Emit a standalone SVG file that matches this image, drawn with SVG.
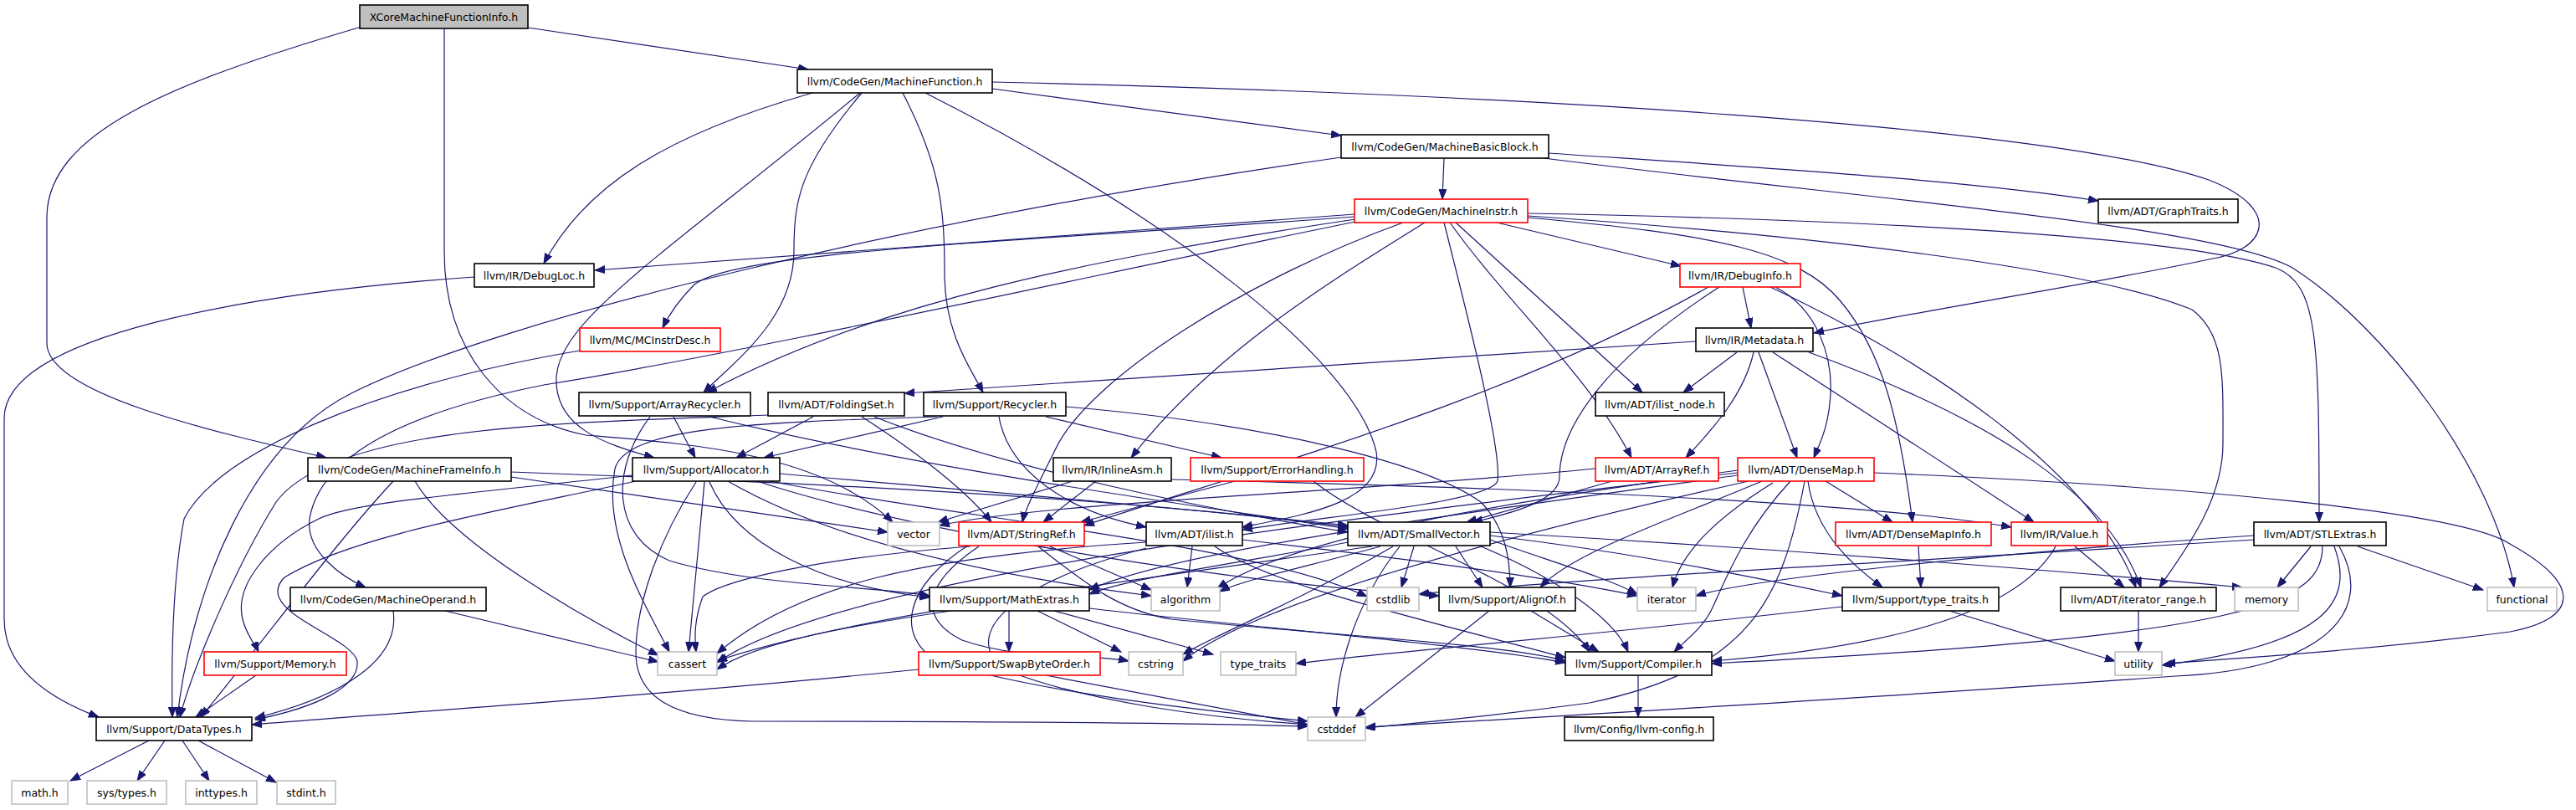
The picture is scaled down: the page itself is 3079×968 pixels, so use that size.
<svg xmlns="http://www.w3.org/2000/svg" width="3079" height="968" viewBox="0 0 3079 968">
<style>
.e path{fill:none;stroke:#191970;stroke-width:1.2;marker-end:url(#ah)}
.n rect{fill:#fff;stroke:#000;stroke-width:1.6}
.n.r rect{stroke:#ff0000}
.n.g rect{stroke:#bfbfbf}
.n.root rect{fill:#bfbfbf}
.n text{font-family:"DejaVu Sans","Liberation Sans",sans-serif;font-size:12.5px;text-anchor:middle;fill:#000}
</style>
<defs>
<marker id="ah" markerUnits="userSpaceOnUse" markerWidth="13" markerHeight="10" refX="12" refY="4.5" orient="auto"><path d="M0,0 L12,4.5 L0,9 z" fill="#191970" stroke="#191970" stroke-width="1"/></marker>
</defs>
<rect width="3079" height="968" fill="#fff"/>
<g id="edges" class="e">
<path d="M631,33 L966,83"/>
<path d="M432,32 C200,100 56,160 56,260 L56,410 C56,470 250,515 390,547"/>
<path d="M531,34 L531,300 C531,420 600,500 700,520 C820,530 980,540 1067,624"/>
<path d="M971,111 C800,160 700,220 650,315"/>
<path d="M1030,111 C955,200 949,240 949,300 C949,380 880,430 841,469"/>
<path d="M1028,111 C800,300 670,380 665,450 C662,510 720,530 782,547"/>
<path d="M1079,111 C1125,200 1129,250 1129,330 C1130,400 1160,440 1175,469"/>
<path d="M1106,111 C1400,260 1620,430 1645,540 C1655,600 1560,615 1485,630"/>
<path d="M1186,106 L1603,162"/>
<path d="M1186,98 C1800,112 2450,150 2640,215 C2730,250 2710,300 2640,310 C2500,340 2300,370 2168,398"/>
<path d="M1726,189 L1724,238"/>
<path d="M1851,183 C2100,200 2350,215 2508,240"/>
<path d="M1845,189 C2250,240 2650,270 2740,320 C2850,390 2980,560 3005,702"/>
<path d="M1603,188 C1100,260 600,380 420,470 C300,530 230,700 212,857"/>
<path d="M1619,256 L711,323"/>
<path d="M1619,259 C1200,290 880,300 830,340 C810,360 800,375 792,392"/>
<path d="M1620,262 C1300,310 1050,360 845,469"/>
<path d="M1620,265 C1300,330 900,420 650,460 C450,500 380,560 370,620 C365,660 410,690 437,702"/>
<path d="M1677,266 C1500,330 1300,450 1260,540 C1235,590 1225,610 1222,624"/>
<path d="M1703,266 C1600,330 1450,420 1352,547"/>
<path d="M1726,266 C1760,400 1795,540 1790,575 C1780,600 1600,615 1485,633"/>
<path d="M1733,266 C1800,360 1900,450 1950,547"/>
<path d="M1740,266 L1963,469"/>
<path d="M1789,266 L2009,318"/>
<path d="M1826,255 C2200,262 2600,280 2720,320 C2770,340 2772,400 2772,624"/>
<path d="M1826,258 C2150,280 2500,320 2620,370 C2660,400 2657,450 2657,530 C2657,600 2610,660 2581,702"/>
<path d="M1826,260 C2050,280 2150,300 2200,360 C2250,420 2270,500 2286,624"/>
<path d="M567,331 C300,350 5,400 5,500 L5,740 C5,800 60,835 118,857"/>
<path d="M2083,343 L2093,392"/>
<path d="M2122,343 C2175,370 2190,430 2188,470 C2186,510 2175,530 2168,547"/>
<path d="M2116,343 C2300,430 2500,560 2553,702"/>
<path d="M2042,343 C1800,480 1500,560 1296,628"/>
<path d="M2055,343 C1920,430 1864,510 1864,570 C1864,600 1800,615 1760,624"/>
<path d="M693,419 C450,460 260,540 220,620 C205,700 205,800 206,857"/>
<path d="M2027,408 L1081,470"/>
<path d="M2076,421 L2012,469"/>
<path d="M2096,421 C2085,470 2050,510 2015,547"/>
<path d="M2102,421 L2148,547"/>
<path d="M2119,421 L2431,624"/>
<path d="M2162,421 C2380,500 2520,590 2559,702"/>
<path d="M805,498 L831,547"/>
<path d="M777,498 C730,560 730,640 800,670 C900,700 1040,700 1111,712"/>
<path d="M848,498 C1100,560 1400,600 1611,632"/>
<path d="M972,498 L880,547"/>
<path d="M1030,498 C1080,530 1150,580 1185,624"/>
<path d="M1045,498 C1200,560 1450,610 1611,636"/>
<path d="M918,496 C700,505 400,505 330,600 C280,680 230,800 215,857"/>
<path d="M1127,498 L913,547"/>
<path d="M1250,498 L1460,547"/>
<path d="M1194,498 C1205,560 1270,610 1370,630"/>
<path d="M1274,486 C1500,505 1700,550 1770,600 C1800,630 1805,670 1805,702"/>
<path d="M1120,498 C900,505 750,510 735,560 C720,640 770,720 800,779"/>
<path d="M611,570 L1061,636"/>
<path d="M611,564 C900,575 1300,590 1611,630"/>
<path d="M470,575 C400,650 320,760 240,857"/>
<path d="M496,575 C540,650 700,740 787,783"/>
<path d="M932,566 C1200,590 1450,610 1611,628"/>
<path d="M905,575 C1100,640 1500,700 1720,712"/>
<path d="M760,575 C600,610 420,640 340,690 C300,730 420,760 427,790 C430,820 380,845 305,860"/>
<path d="M848,576 C880,650 980,700 1111,714"/>
<path d="M756,568 C560,590 420,600 381,620 C320,650 280,700 290,740 C295,760 305,770 309,779"/>
<path d="M870,575 C1000,650 1200,690 1376,712"/>
<path d="M842,576 L823,779"/>
<path d="M832,576 C790,640 760,720 760,780 C760,830 800,860 900,862 C1200,862 1450,865 1563,868"/>
<path d="M920,575 C1150,620 1500,650 1634,713"/>
<path d="M1282,575 L1121,624"/>
<path d="M1310,575 L1247,624"/>
<path d="M1400,573 C1700,580 2200,595 2404,630"/>
<path d="M1476,575 L1292,624"/>
<path d="M1570,575 C1650,640 1850,700 1900,779"/>
<path d="M1907,560 C1600,590 1250,600 1123,628"/>
<path d="M1927,575 L1753,624"/>
<path d="M2182,575 L2262,624"/>
<path d="M2106,575 C2000,620 1880,660 1841,702"/>
<path d="M2119,577 C2050,620 2010,660 1999,702"/>
<path d="M2140,575 C2080,640 2060,700 2045,730 C2035,750 2015,765 2001,779"/>
<path d="M2157,575 C2130,720 2090,800 1900,840 C1750,860 1680,865 1632,870"/>
<path d="M2161,575 C2170,640 2220,680 2250,702"/>
<path d="M2077,562 C1800,600 1550,640 1455,703"/>
<path d="M2077,565 C1600,620 1000,690 857,792"/>
<path d="M2077,568 C1700,620 1400,660 1302,705"/>
<path d="M2090,575 C1800,640 1500,720 1414,790"/>
<path d="M2240,565 C2600,580 2940,610 3000,650 C3090,700 3080,740 3000,755 C2850,775 2700,785 2588,793"/>
<path d="M1255,653 L1376,705"/>
<path d="M1160,653 C1000,665 870,690 840,713 C830,740 830,760 832,779"/>
<path d="M1170,653 C1100,700 1100,740 1150,765 C1220,790 1300,780 1349,790"/>
<path d="M1241,653 C1300,700 1340,730 1400,740 C1600,760 1800,770 1871,790"/>
<path d="M1160,650 C1080,700 1070,760 1120,790 C1250,830 1450,850 1563,862"/>
<path d="M1425,653 L1419,702"/>
<path d="M1452,653 C1520,700 1700,740 1871,786"/>
<path d="M1485,645 C1700,670 1850,690 1957,712"/>
<path d="M1370,648 C1100,665 950,700 857,781"/>
<path d="M1370,655 C1200,700 1150,760 1200,800 C1300,840 1450,858 1563,866"/>
<path d="M1740,653 L1772,702"/>
<path d="M1770,653 C1860,690 1930,740 1946,779"/>
<path d="M1611,648 C1500,670 1350,690 1302,710"/>
<path d="M1781,640 C1950,660 2100,690 2202,712"/>
<path d="M1650,653 C1550,680 1480,695 1458,707"/>
<path d="M1640,653 C1300,700 1000,740 857,790"/>
<path d="M1673,653 C1620,720 1597,800 1597,857"/>
<path d="M1690,653 L1675,702"/>
<path d="M1665,653 C1550,720 1450,760 1414,782"/>
<path d="M1781,645 C1850,670 1920,690 1957,710"/>
<path d="M1781,636 C2200,660 2550,690 2680,702"/>
<path d="M2293,653 L2296,702"/>
<path d="M2480,653 L2539,702"/>
<path d="M2457,653 C2420,720 2300,770 2046,790"/>
<path d="M2762,653 L2722,702"/>
<path d="M2818,653 L2968,705"/>
<path d="M2776,653 C2775,720 2700,760 2046,793"/>
<path d="M2790,653 C2815,720 2780,770 2584,795"/>
<path d="M2796,653 C2840,730 2780,800 2600,808 C2300,830 1800,860 1632,869"/>
<path d="M2694,640 C2400,660 2100,690 2027,712"/>
<path d="M2694,645 C2300,670 1900,690 1696,710"/>
<path d="M470,730 C480,800 380,840 305,858"/>
<path d="M532,730 L787,791"/>
<path d="M1206,730 L1206,779"/>
<path d="M1240,730 L1340,779"/>
<path d="M1260,730 L1450,782"/>
<path d="M1302,727 C1500,750 1750,770 1871,792"/>
<path d="M1137,730 C1000,750 900,770 857,800"/>
<path d="M1830,730 L1911,779"/>
<path d="M1780,730 L1620,857"/>
<path d="M2330,730 L2528,790"/>
<path d="M2202,725 C1900,760 1650,780 1549,793"/>
<path d="M2556,730 L2556,779"/>
<path d="M306,807 L234,857"/>
<path d="M1098,800 C800,830 500,850 301,866"/>
<path d="M1250,807 L1563,866"/>
<path d="M1958,807 L1958,857"/>
<path d="M178,885 L84,933"/>
<path d="M197,885 L164,933"/>
<path d="M218,885 L250,933"/>
<path d="M237,885 L330,935"/>
</g>
<g id="n-A" class="n root"><rect x="430" y="6" width="201" height="28"/><text x="530.5" y="25">XCoreMachineFunctionInfo.h</text></g>
<g id="n-MF" class="n"><rect x="953" y="83" width="233" height="28"/><text x="1069.5" y="102">llvm/CodeGen/MachineFunction.h</text></g>
<g id="n-MBB" class="n"><rect x="1603" y="161" width="248" height="28"/><text x="1727" y="180">llvm/CodeGen/MachineBasicBlock.h</text></g>
<g id="n-MI" class="n r"><rect x="1619" y="238" width="207" height="28"/><text x="1722.5" y="257">llvm/CodeGen/MachineInstr.h</text></g>
<g id="n-GT" class="n"><rect x="2508" y="238" width="167" height="28"/><text x="2591.5" y="257">llvm/ADT/GraphTraits.h</text></g>
<g id="n-DL" class="n"><rect x="567" y="315" width="143" height="28"/><text x="638.5" y="334">llvm/IR/DebugLoc.h</text></g>
<g id="n-DI" class="n r"><rect x="2008" y="315" width="144" height="28"/><text x="2080" y="334">llvm/IR/DebugInfo.h</text></g>
<g id="n-MCID" class="n r"><rect x="693" y="392" width="168" height="28"/><text x="777" y="411">llvm/MC/MCInstrDesc.h</text></g>
<g id="n-MD" class="n"><rect x="2027" y="392" width="140" height="28"/><text x="2097" y="411">llvm/IR/Metadata.h</text></g>
<g id="n-AR" class="n"><rect x="692" y="469" width="205" height="28"/><text x="794.5" y="488">llvm/Support/ArrayRecycler.h</text></g>
<g id="n-FS" class="n"><rect x="918" y="469" width="163" height="28"/><text x="999.5" y="488">llvm/ADT/FoldingSet.h</text></g>
<g id="n-RC" class="n"><rect x="1104" y="469" width="170" height="28"/><text x="1189" y="488">llvm/Support/Recycler.h</text></g>
<g id="n-IN" class="n"><rect x="1907" y="469" width="154" height="28"/><text x="1984" y="488">llvm/ADT/ilist_node.h</text></g>
<g id="n-MFI" class="n"><rect x="368" y="547" width="243" height="28"/><text x="489.5" y="566">llvm/CodeGen/MachineFrameInfo.h</text></g>
<g id="n-AL" class="n"><rect x="756" y="547" width="176" height="28"/><text x="844" y="566">llvm/Support/Allocator.h</text></g>
<g id="n-IA" class="n"><rect x="1259" y="547" width="141" height="28"/><text x="1329.5" y="566">llvm/IR/InlineAsm.h</text></g>
<g id="n-EH" class="n r"><rect x="1423" y="547" width="207" height="28"/><text x="1526.5" y="566">llvm/Support/ErrorHandling.h</text></g>
<g id="n-ARF" class="n r"><rect x="1907" y="547" width="147" height="28"/><text x="1980.5" y="566">llvm/ADT/ArrayRef.h</text></g>
<g id="n-DM" class="n r"><rect x="2077" y="547" width="163" height="28"/><text x="2158.5" y="566">llvm/ADT/DenseMap.h</text></g>
<g id="n-VEC" class="n g"><rect x="1061" y="624" width="62" height="28"/><text x="1092" y="643">vector</text></g>
<g id="n-SR" class="n r"><rect x="1146" y="624" width="150" height="28"/><text x="1221" y="643">llvm/ADT/StringRef.h</text></g>
<g id="n-IL" class="n"><rect x="1370" y="624" width="115" height="28"/><text x="1427.5" y="643">llvm/ADT/ilist.h</text></g>
<g id="n-SV" class="n"><rect x="1611" y="624" width="170" height="28"/><text x="1696" y="643">llvm/ADT/SmallVector.h</text></g>
<g id="n-DMI" class="n r"><rect x="2194" y="624" width="186" height="28"/><text x="2287" y="643">llvm/ADT/DenseMapInfo.h</text></g>
<g id="n-VAL" class="n r"><rect x="2404" y="624" width="115" height="28"/><text x="2461.5" y="643">llvm/IR/Value.h</text></g>
<g id="n-STL" class="n"><rect x="2694" y="624" width="158" height="28"/><text x="2773" y="643">llvm/ADT/STLExtras.h</text></g>
<g id="n-MO" class="n"><rect x="347" y="702" width="234" height="28"/><text x="464" y="721">llvm/CodeGen/MachineOperand.h</text></g>
<g id="n-ME" class="n"><rect x="1111" y="702" width="191" height="28"/><text x="1206.5" y="721">llvm/Support/MathExtras.h</text></g>
<g id="n-ALG" class="n g"><rect x="1376" y="702" width="82" height="28"/><text x="1417" y="721">algorithm</text></g>
<g id="n-CSL" class="n g"><rect x="1634" y="702" width="62" height="28"/><text x="1665" y="721">cstdlib</text></g>
<g id="n-AO" class="n"><rect x="1720" y="702" width="163" height="28"/><text x="1801.5" y="721">llvm/Support/AlignOf.h</text></g>
<g id="n-ITR" class="n g"><rect x="1957" y="702" width="70" height="28"/><text x="1992" y="721">iterator</text></g>
<g id="n-TT" class="n"><rect x="2202" y="702" width="187" height="28"/><text x="2295.5" y="721">llvm/Support/type_traits.h</text></g>
<g id="n-IRG" class="n"><rect x="2463" y="702" width="186" height="28"/><text x="2556" y="721">llvm/ADT/iterator_range.h</text></g>
<g id="n-MEM" class="n g"><rect x="2671" y="702" width="76" height="28"/><text x="2709" y="721">memory</text></g>
<g id="n-FUN" class="n g"><rect x="2973" y="702" width="83" height="28"/><text x="3014.5" y="721">functional</text></g>
<g id="n-MMY" class="n r"><rect x="244" y="779" width="170" height="28"/><text x="329" y="798">llvm/Support/Memory.h</text></g>
<g id="n-CA" class="n g"><rect x="786" y="779" width="71" height="28"/><text x="821.5" y="798">cassert</text></g>
<g id="n-SBO" class="n r"><rect x="1098" y="779" width="217" height="28"/><text x="1206.5" y="798">llvm/Support/SwapByteOrder.h</text></g>
<g id="n-CST" class="n g"><rect x="1349" y="779" width="65" height="28"/><text x="1381.5" y="798">cstring</text></g>
<g id="n-TTS" class="n g"><rect x="1459" y="779" width="90" height="28"/><text x="1504" y="798">type_traits</text></g>
<g id="n-CMP" class="n"><rect x="1871" y="779" width="175" height="28"/><text x="1958.5" y="798">llvm/Support/Compiler.h</text></g>
<g id="n-UTL" class="n g"><rect x="2528" y="779" width="56" height="28"/><text x="2556" y="798">utility</text></g>
<g id="n-DT" class="n"><rect x="115" y="857" width="186" height="28"/><text x="208" y="876">llvm/Support/DataTypes.h</text></g>
<g id="n-CDF" class="n g"><rect x="1563" y="857" width="69" height="28"/><text x="1597.5" y="876">cstddef</text></g>
<g id="n-CFG" class="n"><rect x="1870" y="857" width="178" height="28"/><text x="1959" y="876">llvm/Config/llvm-config.h</text></g>
<g id="n-MATH" class="n g"><rect x="14" y="933" width="67" height="28"/><text x="47.5" y="952">math.h</text></g>
<g id="n-SYS" class="n g"><rect x="104" y="933" width="95" height="28"/><text x="151.5" y="952">sys/types.h</text></g>
<g id="n-INTT" class="n g"><rect x="222" y="933" width="85" height="28"/><text x="264.5" y="952">inttypes.h</text></g>
<g id="n-STD" class="n g"><rect x="331" y="933" width="70" height="28"/><text x="366" y="952">stdint.h</text></g>
</svg>
